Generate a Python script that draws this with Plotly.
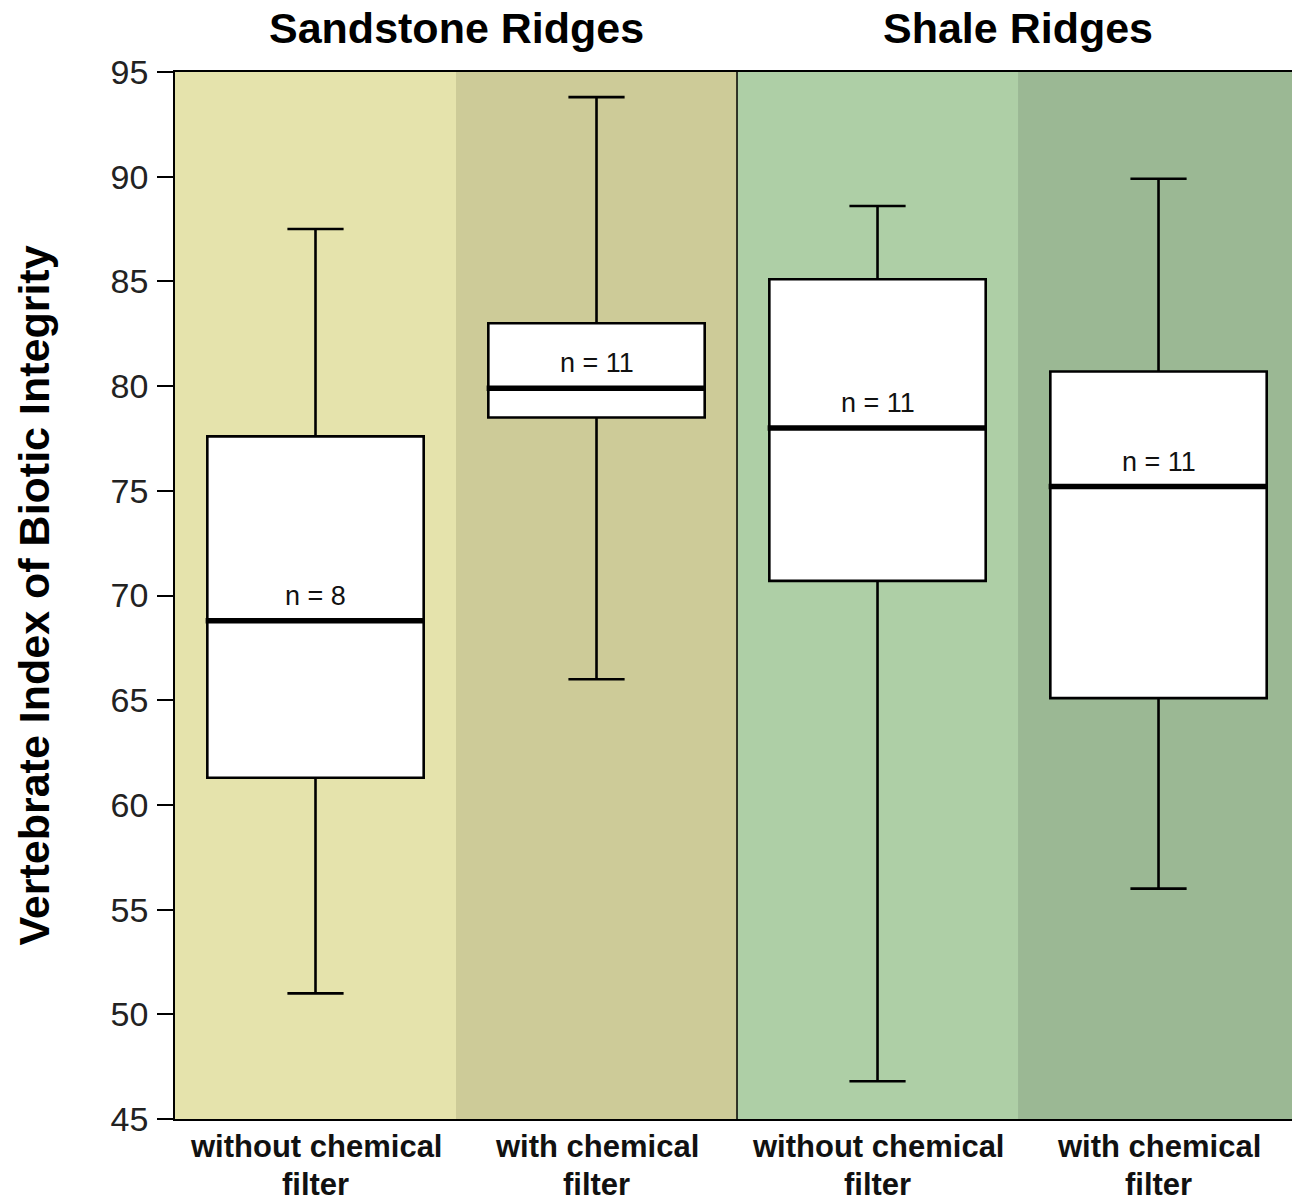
import plotly.graph_objects as go

# Vertebrate IBI by site type and treatment
categories = ["without chemical filter", "with chemical filter",
              "without chemical filter", "with chemical filter"]
groups = ["Sandstone Ridges", "Shale Ridges"]
lower_whisker = [51.0, 66.0, 46.8, 56.0]
q1 = [61.3, 78.5, 70.7, 65.1]
median = [68.8, 79.9, 78.0, 75.2]
q3 = [77.6, 83.0, 85.1, 80.7]
upper_whisker = [87.5, 93.8, 88.6, 89.9]
n_obs = [8, 11, 11, 11]
panel_colors = ["#E5E3AC", "#CDCB98", "#AECFA6", "#9BB894"]

x_pos = list(range(len(categories)))
box_w = 0.77
cap_w = 0.2

fig = go.Figure()

# Shaded column behind each treatment
for i, c in enumerate(panel_colors):
    fig.add_shape(type="rect", xref="x", yref="paper",
                  x0=i - 0.5, x1=i + 0.5, y0=0, y1=1,
                  fillcolor=c, line_width=0, layer="below")

# Divider between the two ridge types
fig.add_shape(type="line", xref="x", yref="paper", x0=1.5, x1=1.5, y0=0, y1=1,
              line=dict(color="black", width=1.5), layer="above")

fig.add_trace(go.Box(
    x=x_pos, q1=q1, median=median, q3=q3,
    lowerfence=lower_whisker, upperfence=upper_whisker,
    width=box_w, fillcolor="white",
    line=dict(color="black", width=2.6),
    whiskerwidth=0, boxpoints=False, showlegend=False, hoverinfo="skip",
))

# Heavy median bars
for x, m in zip(x_pos, median):
    fig.add_trace(go.Scatter(
        x=[x - box_w / 2 - 0.006, x + box_w / 2], y=[m, m], mode="lines",
        line=dict(color="black", width=5.5), showlegend=False, hoverinfo="skip"))

# Whisker caps
for x, lo, hi in zip(x_pos, lower_whisker, upper_whisker):
    for v in (lo, hi):
        fig.add_trace(go.Scatter(
            x=[x - cap_w / 2, x + cap_w / 2], y=[v, v], mode="lines",
            line=dict(color="black", width=2.6), showlegend=False, hoverinfo="skip"))

# Sample sizes above medians
for x, m, n in zip(x_pos, median, n_obs):
    fig.add_annotation(x=x, y=m, text=f"n = {n}", showarrow=False,
                       yanchor="bottom", yshift=8,
                       font=dict(family="Liberation Sans Narrow, Liberation Sans",
                                 size=27, color="#111"))

# Group headings
for gx, g in zip([0.5, 2.5], groups):
    fig.add_annotation(x=gx, xref="x", y=1, yref="paper", yanchor="bottom",
                       yshift=18, text=f"<b>{g}</b>", showarrow=False,
                       font=dict(family="Liberation Sans", size=43, color="black"))

# Y axis title
fig.add_annotation(x=0, xref="paper", y=0.5, yref="paper", xshift=-142,
                   xanchor="center", yanchor="middle",
                   text="<b>Vertebrate Index of Biotic Integrity</b>",
                   textangle=-90, showarrow=False,
                   font=dict(family="Liberation Sans", size=43, color="black"))

# Two-line category labels under each column
cat_font = dict(family="Liberation Sans", size=31, color="#111")
for x, c in zip(x_pos, categories):
    head, tail = c.rsplit(" ", 1)
    fig.add_annotation(x=x, xref="x", y=0, yref="paper", yanchor="middle",
                       yshift=-27, text=f"<b>{head}</b>", showarrow=False,
                       font=cat_font)
    fig.add_annotation(x=x, xref="x", y=0, yref="paper", yanchor="middle",
                       yshift=-65, text=f"<b>{tail}</b>", showarrow=False,
                       font=cat_font)

fig.update_layout(
    width=1292, height=1201,
    margin=dict(l=175, r=0, t=72, b=82),
    paper_bgcolor="white", plot_bgcolor="white",
    showlegend=False,
    xaxis=dict(range=[-0.5, 3.475], tickvals=x_pos, showticklabels=False,
               showgrid=False, zeroline=False, ticks="", automargin=False,
               showline=True, linecolor="black", linewidth=1.5, mirror=True),
    yaxis=dict(range=[45, 95], dtick=5, showgrid=False, zeroline=False,
               automargin=False,
               ticks="outside", ticklen=16, tickwidth=1.5, tickcolor="black",
               showline=True, linecolor="black", linewidth=1.5,
               ticklabelstandoff=2,
               tickfont=dict(family="Liberation Sans", size=34, color="#222")),
)

fig.write_html("out.html")
